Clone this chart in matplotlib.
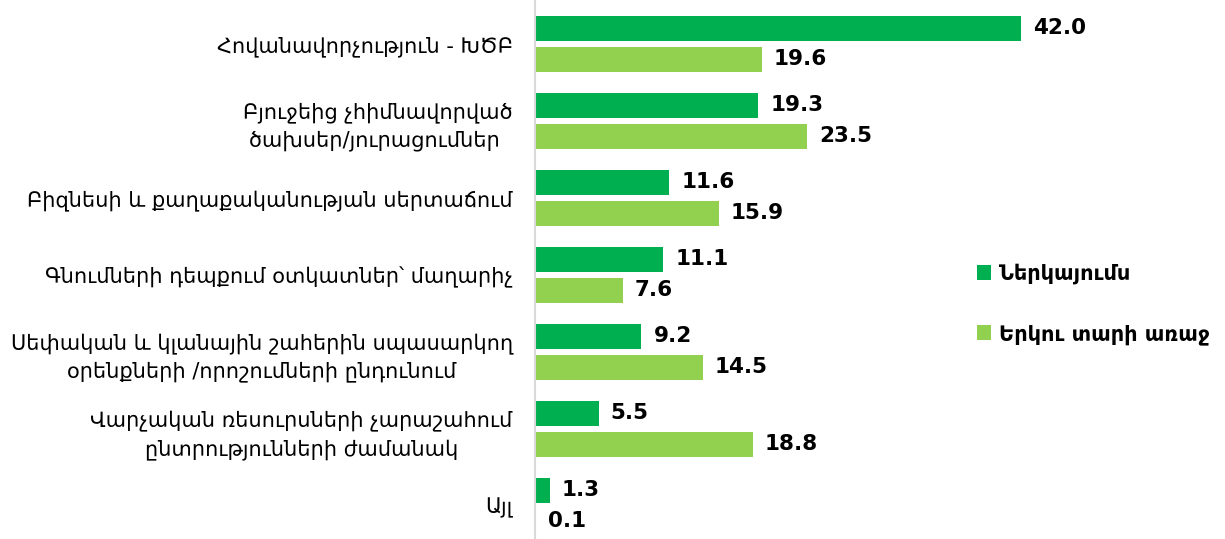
import matplotlib.pyplot as plt
import numpy as np

plt.rcParams['font.family'] = ['DejaVu Sans']

# տվյալներ
categories = [
    'Հովանավորչություն - ԽԾԲ',
    'Բյուջեից չհիմնավորված\nծախսեր/յուրացումներ ',
    'Բիզնեսի և քաղաքականության սերտաճում',
    'Գնումների դեպքում օտկատներ՝ մաղարիչ',
    'Սեփական և կլանային շահերին սպասարկող\nօրենքների /որոշումների ընդունում',
    'Վարչական ռեսուրսների չարաշահում\nընտրությունների ժամանակ',
    'Այլ',
]
now_values = [42.0, 19.3, 11.6, 11.1, 9.2, 5.5, 1.3]
before_values = [19.6, 23.5, 15.9, 7.6, 14.5, 18.8, 0.1]
series_names = ['Ներկայումս', 'Երկու տարի առաջ']
colors = ['#00B050', '#92D050']

fig = plt.figure(figsize=(12.25, 5.39), dpi=100)
ax = fig.add_axes([535 / 1225, 0, (1021 - 535) / 1225, 1])

y = np.arange(len(categories))
h = 0.325
off = 0.2

b1 = ax.barh(y - off, now_values, height=h, color=colors[0], label=series_names[0])
b2 = ax.barh(y + off, before_values, height=h, color=colors[1], label=series_names[1])

for bars, vals in [(b1, now_values), (b2, before_values)]:
    for bar, v in zip(bars, vals):
        ax.annotate(f'{v:.1f}', (bar.get_width(), bar.get_y() + bar.get_height() / 2),
                    xytext=(12, 0), textcoords='offset pixels', va='center', ha='left',
                    fontsize=15.5, fontweight='bold', color='black', annotation_clip=False)

ax.set_xlim(0, 42)
ax.set_ylim(6.43, -0.57)
ax.set_yticks(y)
ax.set_yticklabels(categories, fontsize=15, multialignment='center', linespacing=1.45)
ax.tick_params(axis='y', length=0, pad=16)
ax.set_xticks([])
for s in ['top', 'right', 'bottom']:
    ax.spines[s].set_visible(False)
ax.spines['left'].set_color('#D9D9D9')
ax.spines['left'].set_linewidth(1.5)

fig.legend(handles=[b1, b2], loc='upper left', bbox_to_anchor=(958 / 1225, 1 - 245 / 539),
           frameon=False, prop={'weight': 'bold', 'size': 15},
           handlelength=0.7, handleheight=0.7, handletextpad=0.35, labelspacing=1.9)

fig.savefig('out.png', dpi=100)
